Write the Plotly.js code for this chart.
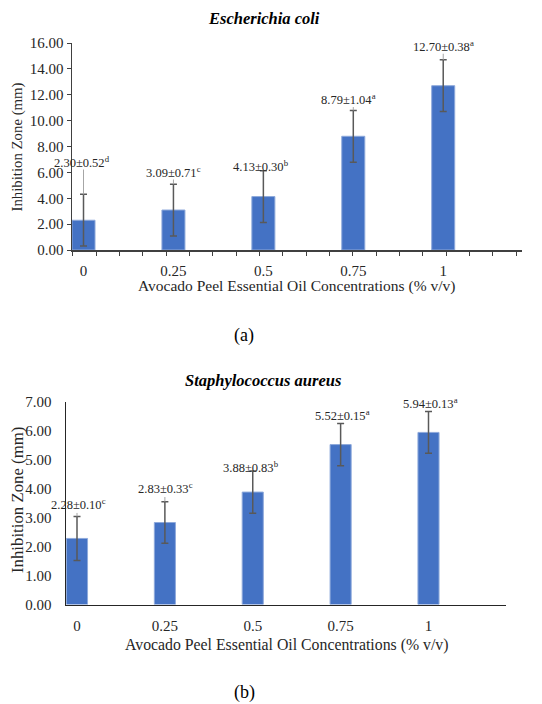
<!DOCTYPE html>
<html>
<head>
<meta charset="utf-8">
<script src="https://cdn.plot.ly/plotly-3.0.1.min.js"></script>
<style>html,body{margin:0;padding:0;background:#fff;}#chart{width:542px;height:704px;}</style>
</head>
<body>
<div id="chart"></div>
<script>
// ---- data ----
const concentrations = [0, 0.25, 0.5, 0.75, 1];
const tickLabels = ["0", "0.25", "0.5", "0.75", "1"];

const ecoliMean = [2.30, 3.09, 4.13, 8.79, 12.70];
const ecoliSD = [0.52, 0.71, 0.30, 1.04, 0.38];
const ecoliLetter = ["d", "c", "b", "a", "a"];
const ecoliErrBar = [2.0, 2.0, 2.0, 2.0, 2.0];
const ecoliLabelY = [6.82, 6.05, 6.49, 11.65, 15.77];
const ecoliLabelX = [-0.003, 0.0, -0.006, -0.012, 0.0];

const saureusMean = [2.28, 2.83, 3.88, 5.52, 5.94];
const saureusSD = [0.10, 0.33, 0.83, 0.15, 0.13];
const saureusLetter = ["c", "c", "b", "a", "a"];
const saureusErrBar = [0.76, 0.72, 0.73, 0.73, 0.72];
const saureusLabelY = [3.46, 4.01, 4.73, 6.53, 6.94];
const saureusLabelX = [0.005, 0.003, -0.006, 0.005, 0.006];

// ---- style ----
const W = 542, H = 704;
const serif = "Liberation Serif";
const barColor = "#4472C4";
const barEdge = "#8EA9DB";
const errColor = "#595959";
const leaderColor = "#A6A6A6";
const textColor = "#262626";

function fx(px) { return px / W; }
function fy(px) { return 1 - px / H; }

function fmt(m, s, l) { return m.toFixed(2) + "±" + s.toFixed(2) + "<sup>" + l + "</sup>"; }

function leaderTrace(means, errs, labelY, off, xa, ya) {
  const xs = [], ys = [];
  concentrations.forEach((c, i) => {
    const top = means[i] + errs[i];
    const end = labelY[i] - off;
    if (end > top) { xs.push(c, c, null); ys.push(top, end, null); }
  });
  return { type: "scatter", mode: "lines", x: xs, y: ys, xaxis: xa, yaxis: ya,
    line: { color: leaderColor, width: 1 }, hoverinfo: "skip", showlegend: false };
}

const traces = [
  leaderTrace(ecoliMean, ecoliErrBar, ecoliLabelY, 0.6, "x", "y"),
  leaderTrace(saureusMean, saureusErrBar, saureusLabelY, 0.3, "x2", "y2"),
  {
    type: "bar", x: concentrations, y: ecoliMean, width: 0.064, xaxis: "x", yaxis: "y",
    marker: { color: barColor, line: { color: barEdge, width: 1 } },
    error_y: { type: "data", array: ecoliErrBar, color: errColor, thickness: 1.5, width: 3.5 },
    showlegend: false
  },
  {
    type: "bar", x: concentrations, y: saureusMean, width: 0.06, xaxis: "x2", yaxis: "y2",
    marker: { color: barColor, line: { color: barEdge, width: 1 } },
    error_y: { type: "data", array: saureusErrBar, color: errColor, thickness: 1.5, width: 3.5 },
    showlegend: false
  }
];

const tickFont = { family: serif, size: 15, color: textColor };
const annotations = [];

// titles
annotations.push({ xref: "paper", yref: "paper", x: fx(263.5), y: fy(18.5), text: "<b><i>Escherichia coli</i></b>",
  showarrow: false, font: { family: serif, size: 16.5, color: "#000" }, xanchor: "center", yanchor: "middle" });
annotations.push({ xref: "paper", yref: "paper", x: fx(263), y: fy(380), text: "<b><i>Staphylococcus aureus</i></b>",
  showarrow: false, font: { family: serif, size: 16.5, color: "#000" }, xanchor: "center", yanchor: "middle" });
// axis titles
annotations.push({ xref: "paper", yref: "paper", x: fx(296.5), y: fy(286), text: "Avocado Peel Essential Oil Concentrations (% v/v)",
  showarrow: false, font: { family: serif, size: 15.5, color: textColor }, xanchor: "center", yanchor: "middle" });
annotations.push({ xref: "paper", yref: "paper", x: fx(286), y: fy(645), text: "Avocado Peel Essential Oil Concentrations (% v/v)",
  showarrow: false, font: { family: serif, size: 15.8, color: textColor }, xanchor: "center", yanchor: "middle" });
annotations.push({ xref: "paper", yref: "paper", x: fx(17), y: fy(147.5), text: "Inhibition Zone (mm)", textangle: -90,
  showarrow: false, font: { family: serif, size: 14.8, color: textColor }, xanchor: "center", yanchor: "middle" });
annotations.push({ xref: "paper", yref: "paper", x: fx(17), y: fy(500), text: "Inhibition Zone (mm)", textangle: -90,
  showarrow: false, font: { family: serif, size: 16.8, color: textColor }, xanchor: "center", yanchor: "middle" });
// panel letters
annotations.push({ xref: "paper", yref: "paper", x: fx(244), y: fy(335), text: "(a)",
  showarrow: false, font: { family: serif, size: 18, color: "#000" }, xanchor: "center", yanchor: "middle" });
annotations.push({ xref: "paper", yref: "paper", x: fx(244), y: fy(692), text: "(b)",
  showarrow: false, font: { family: serif, size: 18, color: "#000" }, xanchor: "center", yanchor: "middle" });

// data labels
concentrations.forEach((c, i) => {
  annotations.push({ xref: "x", yref: "y", x: c + ecoliLabelX[i], y: ecoliLabelY[i], text: fmt(ecoliMean[i], ecoliSD[i], ecoliLetter[i]),
    showarrow: false, font: { family: serif, size: 12.5, color: textColor }, xanchor: "center", yanchor: "middle" });
  annotations.push({ xref: "x2", yref: "y2", x: c + saureusLabelX[i], y: saureusLabelY[i], text: fmt(saureusMean[i], saureusSD[i], saureusLetter[i]),
    showarrow: false, font: { family: serif, size: 12.5, color: textColor }, xanchor: "center", yanchor: "middle" });
});

const layout = {
  width: W, height: H,
  margin: { l: 0, r: 0, t: 0, b: 0 },
  paper_bgcolor: "#fff", plot_bgcolor: "#fff",
  showlegend: false,
  xaxis: {
    domain: [fx(72), fx(522)], range: [-0.032, 1.219], anchor: "y",
    tickvals: concentrations, ticktext: tickLabels, ticks: "outside", ticklen: 6, tickcolor: "rgba(0,0,0,0)",
    minor: { ticks: "outside", tick0: -0.03, dtick: 0.0649, ticklen: 4, tickcolor: "#404040", tickwidth: 1 },
    showline: true, linecolor: "#404040", linewidth: 1.5, showgrid: false, zeroline: false,
    tickfont: tickFont
  },
  yaxis: {
    domain: [fy(250), fy(43)], range: [0, 16], dtick: 2, tick0: 0, tickformat: ".2f", anchor: "x",
    ticks: "outside", ticklen: 4, tickcolor: "#404040", tickwidth: 1,
    showline: true, linecolor: "#404040", linewidth: 1.5, showgrid: false, zeroline: false,
    tickfont: tickFont
  },
  xaxis2: {
    domain: [fx(66), fx(506)], range: [-0.0313, 1.2205], anchor: "y2",
    tickvals: concentrations, ticktext: tickLabels, ticks: "outside", ticklen: 7, tickcolor: "rgba(0,0,0,0)",
    showline: true, linecolor: "#262626", linewidth: 1.5, showgrid: false, zeroline: false,
    tickfont: tickFont
  },
  yaxis2: {
    domain: [fy(604.5), fy(401.7)], range: [0, 7], dtick: 1, tick0: 0, tickformat: ".2f", anchor: "x2",
    ticks: "outside", ticklen: 10, tickcolor: "rgba(0,0,0,0)",
    showline: true, linecolor: "#262626", linewidth: 1.5, showgrid: false, zeroline: false,
    tickfont: tickFont
  },
  annotations: annotations
};

Plotly.newPlot("chart", traces, layout, { staticPlot: true, displayModeBar: false });
</script>
</body>
</html>
